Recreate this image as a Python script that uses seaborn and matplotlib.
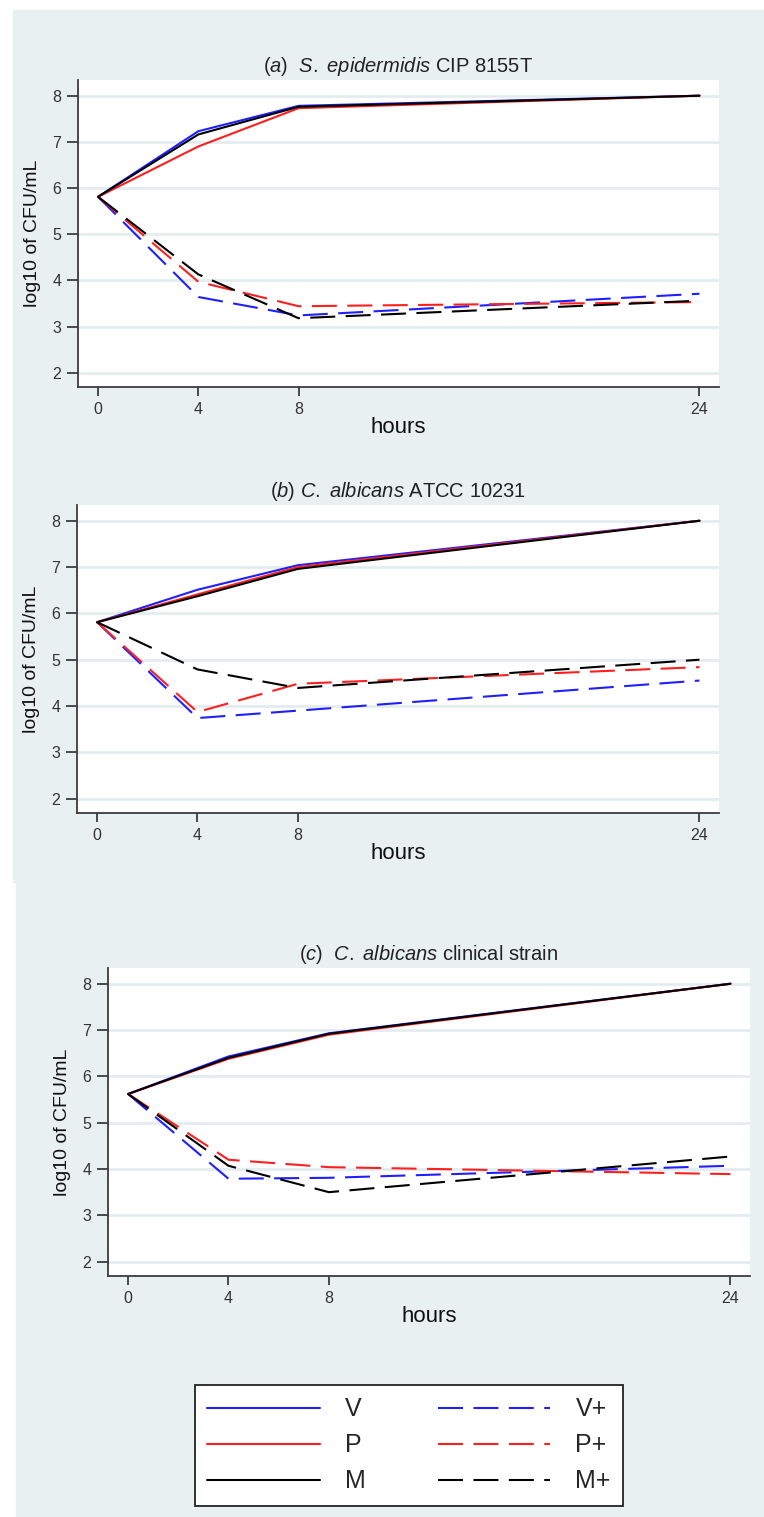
import numpy as np
import pandas as pd
import seaborn as sns
import matplotlib.pyplot as plt
from matplotlib.patches import Rectangle

# sampling times (hours)
hours = [0, 4, 8, 24]
groups = ["V", "P", "M", "V+", "P+", "M+"]

# (a) S. epidermidis CIP 8155T
epidermidis = {
    "V":  [5.81, 7.23, 7.78, 8.0],
    "P":  [5.81, 6.90, 7.73, 8.0],
    "M":  [5.81, 7.16, 7.76, 8.0],
    "V+": [5.81, 3.64, 3.24, 3.71],
    "P+": [5.81, 3.97, 3.44, 3.53],
    "M+": [5.81, 4.13, 3.18, 3.56],
}
# (b) C. albicans ATCC 10231
albicans_atcc = {
    "V":  [5.81, 6.51, 7.04, 8.0],
    "P":  [5.81, 6.41, 7.00, 8.0],
    "M":  [5.81, 6.37, 6.96, 8.0],
    "V+": [5.81, 3.74, 3.90, 4.55],
    "P+": [5.81, 3.87, 4.48, 4.84],
    "M+": [5.81, 4.79, 4.39, 5.00],
}
# (c) C. albicans clinical strain
albicans_clin = {
    "V":  [5.62, 6.43, 6.93, 8.0],
    "P":  [5.62, 6.38, 6.90, 8.0],
    "M":  [5.62, 6.40, 6.92, 8.0],
    "V+": [5.62, 3.79, 3.81, 4.07],
    "P+": [5.62, 4.20, 4.04, 3.89],
    "M+": [5.62, 4.07, 3.50, 4.27],
}

titles = [
    r"$\mathit{(a)\ \ S.\ epidermidis}$ CIP 8155T",
    r"$\mathit{(b)\ C.\ albicans}$ ATCC 10231",
    r"$\mathit{(c)\ \ C.\ albicans}$ clinical strain",
]
panels = [epidermidis, albicans_atcc, albicans_clin]

palette = {"V": "#1f1fff", "P": "#ff1f1f", "M": "#000000",
           "V+": "#1f1fff", "P+": "#ff1f1f", "M+": "#000000"}
dashes = {"V": "", "P": "", "M": "", "V+": (12, 5), "P+": (12, 5), "M+": (12, 5)}

sns.set_theme(style="white")
plt.rcParams["font.family"] = ["Liberation Sans", "DejaVu Sans"]
plt.rcParams["mathtext.fontset"] = "custom"
plt.rcParams["mathtext.rm"] = "Liberation Sans"
plt.rcParams["mathtext.it"] = "Liberation Sans:italic"

W, H = 764, 1517
fig = plt.figure(figsize=(W / 100, H / 100), dpi=100)
fig.patch.set_facecolor("white")

bg = "#e8f0f2"
# panel backgrounds (pixel boxes)
fig.patches.append(Rectangle((13 / W, 1 - 882 / H), 1, (882 - 10) / H,
                             transform=fig.transFigure, color=bg, zorder=-5))
fig.patches.append(Rectangle((16 / W, 0), 1, 1 - 882 / H,
                             transform=fig.transFigure, color=bg, zorder=-5))

# axes boxes in pixels: left, right, top, bottom
boxes = [(78, 719, 80, 387), (77, 719, 505, 813), (108, 750, 968, 1276)]

def to_df(d):
    rows = []
    for g in groups:
        for h, v in zip(hours, d[g]):
            rows.append({"hours": h, "log": v, "group": g})
    return pd.DataFrame(rows)

axes = []
for d, title, (l, r, t, b) in zip(panels, titles, boxes):
    ax = fig.add_axes([l / W, 1 - b / H, (r - l) / W, (b - t) / H])
    df = to_df(d)
    sns.lineplot(data=df, x="hours", y="log", hue="group", style="group",
                 hue_order=groups, style_order=groups,
                 palette=palette, dashes=dashes, linewidth=1.5, ax=ax)
    ax.set_facecolor("white")
    ax.set_xlim(-0.8, 24.78)
    ax.set_ylim(1.69, 8.34)
    ax.set_xticks(hours)
    ax.set_yticks(range(2, 9))
    for yv in range(2, 9):
        ax.axhline(yv, color="#e3edf1", lw=2, zorder=0)
    for s in ["top", "right"]:
        ax.spines[s].set_visible(False)
    for s in ["left", "bottom"]:
        ax.spines[s].set_color("#3c3c3c")
        ax.spines[s].set_linewidth(1.3)
    ax.tick_params(axis="y", length=8, width=1.3, color="#3c3c3c",
                   labelsize=11.5, labelcolor="#333333", pad=4, left=True)
    ax.tick_params(axis="x", length=6.5, width=1.3, color="#3c3c3c",
                   labelsize=11.5, labelcolor="#333333", pad=4, bottom=True)
    ax.set_xlabel("hours", fontsize=16, color="#111111", labelpad=0)
    ax.set_ylabel("log10 of CFU/mL", fontsize=14, color="#111111", labelpad=8)
    ax.set_title(title, fontsize=14.5, color="#222222", pad=6)
    axes.append(ax)

handles, labels = axes[-1].get_legend_handles_labels()
for a in axes:
    a.get_legend().remove()

cx, cy = (193 + 625) / 2, (1383 + 1508) / 2
leg = fig.legend(handles, labels, ncol=2, loc="center",
                 bbox_to_anchor=(cx / W, 1 - cy / H),
                 fontsize=18, handlelength=4.5, handletextpad=1.0,
                 columnspacing=2.9, labelspacing=0.48, borderpad=0.5,
                 frameon=True, fancybox=False, framealpha=1,
                 edgecolor="#222222", facecolor="white")
leg.get_frame().set_linewidth(1.3)
for hl in leg.get_lines():
    hl.set_linewidth(1.5)

fig.savefig("out.png", dpi=100)
